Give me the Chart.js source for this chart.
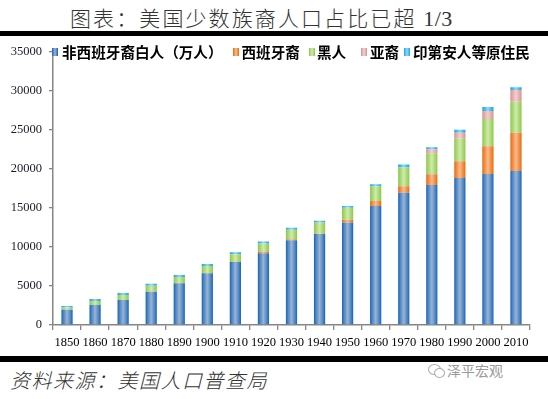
<!DOCTYPE html>
<html>
<head>
<meta charset="utf-8">
<script src="https://cdn.jsdelivr.net/npm/chart.js@4/dist/chart.umd.min.js"></script>
<style>
  html,body{margin:0;padding:0;background:#fff;}
  body{width:548px;height:399px;position:relative;overflow:hidden;font-family:"Noto Sans CJK SC",sans-serif;}
  #title{position:absolute;left:70px;top:2px;text-align:left;font-size:21px;letter-spacing:2.1px;color:#333;font-weight:300;line-height:30px;white-space:nowrap;}
  #title .num{font-family:"Liberation Serif","Times New Roman",serif;font-size:22px;letter-spacing:0.5px;}
  #bar1{position:absolute;left:0;top:31px;width:548px;height:5px;background:#000;}
  #bar2{position:absolute;left:0;top:356px;width:548px;height:6px;background:#000;}
  #wrap{position:absolute;left:0;top:37px;width:548px;height:318px;}
  #source{position:absolute;left:10px;top:366px;font-size:20px;font-style:italic;letter-spacing:1.5px;color:#333;font-weight:300;line-height:28px;white-space:nowrap;}
  #wm{position:absolute;left:447px;top:361px;font-size:14px;color:#999;line-height:18px;white-space:nowrap;}
  .c1{position:absolute;left:428px;top:364px;width:11px;height:9px;border:1px solid #aaa;border-radius:50%;}
  .c2{position:absolute;left:434px;top:368px;width:9px;height:8px;border:1px solid #aaa;border-radius:50%;background:#fff;}
  .lg{position:absolute;top:43px;font-size:14.6px;font-weight:bold;color:#000;line-height:18px;white-space:nowrap;}
  .sq{position:absolute;top:48px;width:6px;height:8px;}
</style>
</head>
<body>
<div id="title">图表：美国少数族裔人口占比已超 <span class="num">1/3</span></div>
<div id="bar1"></div>
<div id="wrap"><canvas id="chart"></canvas></div>
<div id="legend"></div>
<div id="bar2"></div>
<div id="source">资料来源：美国人口普查局</div>
<div class="c1"></div><div class="c2"></div>
<div id="wm">泽平宏观</div>
<script>
// ---- data (万人) ----
const years = ['1850','1860','1870','1880','1890','1900','1910','1920','1930','1940','1950','1960','1970','1980','1990','2000','2010'];
const whiteNonHispanic = [1937, 2570, 3200, 4255, 5355, 6620, 8050, 9190, 10835, 11646, 13114, 15228, 16911, 17924, 18810, 19316, 19696];
const hispanic = [0, 0, 0, 0, 0, 0, 0, 215, 127, 76, 342, 633, 848, 1354, 2152, 3545, 4899];
const black = [293, 505, 635, 760, 795, 925, 1013, 1013, 1228, 1392, 1557, 1899, 2406, 2697, 2873, 3506, 3962];
const asian = [0, 0, 0, 0, 0, 0, 0, 0, 0, 0, 0, 0, 0, 506, 760, 1013, 1519];
const nativeAmerican = [210, 255, 255, 255, 255, 255, 253, 253, 253, 215, 215, 253, 379, 253, 380, 506, 342];
const seriesLabels = ['非西班牙裔白人（万人）','西班牙裔','黑人','亚裔','印第安人等原住民'];
const yTicks = [0,5000,10000,15000,20000,25000,30000,35000];

const palettes = [
  ['#1463bd','#4f88c6','#9cb3cf','#4f88c6','#1463bd'],
  ['#e46c0a','#f08b42','#fbbb8e','#f08b42','#e46c0a'],
  ['#8cc84b','#a8d66f','#cfeab0','#a8d66f','#8cc84b'],
  ['#d69290','#e2acaa','#f1d0cf','#e2acaa','#d69290'],
  ['#1ea6e6','#3db8f0','#92d9f8','#3db8f0','#1ea6e6']
];
const stopPos = [0,0.2,0.5,0.8,1];
const BAR_PCT = 0.4;

function gradFill(p){
  return function(ctx){
    const chart = ctx.chart;
    const xs = chart.scales && chart.scales.x;
    if(!xs || ctx.type !== 'data' || !isFinite(xs.width)) return p[2];
    const w = (xs.width / years.length) * BAR_PCT;
    const cx = xs.getPixelForValue(ctx.dataIndex);
    const g = chart.ctx.createLinearGradient(cx - w/2, 0, cx + w/2, 0);
    p.forEach((c,i)=>g.addColorStop(stopPos[i], c));
    return g;
  };
}

// HTML legend
const legendPos = [[52,62],[233,241.5],[309,317],[361,370],[404,413]];
const lgEl = document.getElementById('legend');
seriesLabels.forEach((lab,i)=>{
  const sq = document.createElement('div');
  sq.className = 'sq';
  sq.style.left = legendPos[i][0] + 'px';
  const p = palettes[i];
  sq.style.background = 'linear-gradient(to right,' + p[0] + ',' + p[2] + ' 50%,' + p[4] + ')';
  lgEl.appendChild(sq);
  const t = document.createElement('div');
  t.className = 'lg';
  t.style.left = legendPos[i][1] + 'px';
  t.textContent = lab;
  lgEl.appendChild(t);
});

const seriesData = [whiteNonHispanic, hispanic, black, asian, nativeAmerican];
const axisColor = '#858585';
const tickFont = {family:'"Liberation Serif","Times New Roman",serif', size:12.5};

new Chart(document.getElementById('chart'), {
  type:'bar',
  data:{
    labels: years,
    datasets: seriesData.map((d,i)=>({
      label: seriesLabels[i],
      data: d,
      backgroundColor: gradFill(palettes[i]),
      borderWidth: 0,
      categoryPercentage: 1,
      barPercentage: BAR_PCT
    }))
  },
  options:{
    responsive:true,
    maintainAspectRatio:false,
    devicePixelRatio:1,
    animation:false,
    layout:{padding:{top:12,right:18,left:0,bottom:0}},
    plugins:{legend:{display:false}, tooltip:{enabled:false}},
    scales:{
      x:{
        stacked:true,
        grid:{display:true, drawOnChartArea:false, drawTicks:true, tickLength:5, color:axisColor, lineWidth:1.3, offset:true},
        border:{display:true, color:axisColor, width:1.5},
        ticks:{font:tickFont, color:'#000', padding:5, maxRotation:0, autoSkip:false},
        afterFit:(s)=>{s.height = 30;}
      },
      y:{
        stacked:true,
        min:0, max:35000,
        afterBuildTicks:(s)=>{s.ticks = yTicks.map(v=>({value:v}));},
        grid:{display:true, drawOnChartArea:false, drawTicks:true, tickLength:4, color:axisColor, lineWidth:1.3},
        border:{display:true, color:axisColor, width:1.5},
        ticks:{font:tickFont, color:'#1a1a2a', padding:7, callback:(v)=>String(v)},
        afterFit:(s)=>{s.width = 53;}
      }
    }
  }
});
</script>
</body>
</html>
